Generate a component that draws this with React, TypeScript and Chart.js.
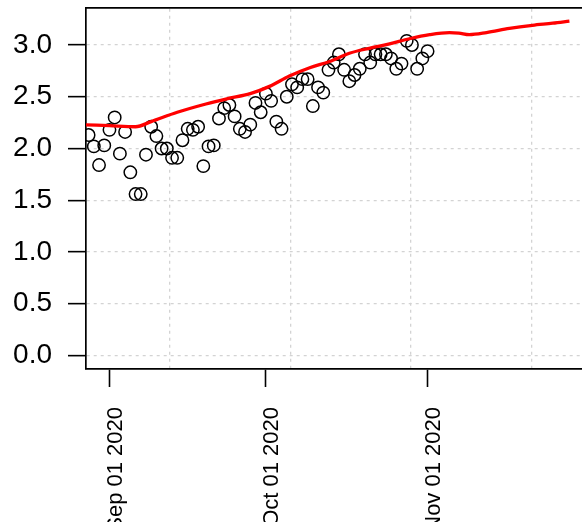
import { useEffect, useRef } from "react";
import { Chart, registerables } from "chart.js";

Chart.register(...registerables);

// ---- data ----
const originDate = "2020-09-01"; // day 0 of the x axis
const firstPointDate = "2020-08-28"; // daily observations start here
const pointValues = [
  2.13, 2.02, 1.84, 2.03, 2.18, 2.3, 1.95, 2.16, 1.77, 1.56, 1.56, 1.94, 2.21, 2.12,
  2.0, 2.0, 1.91, 1.91, 2.08, 2.19, 2.18, 2.21, 1.83, 2.02, 2.03, 2.29, 2.39, 2.42,
  2.31, 2.19, 2.16, 2.23, 2.44, 2.35, 2.53, 2.46, 2.26, 2.19, 2.5, 2.62, 2.59, 2.67,
  2.67, 2.41, 2.59, 2.54, 2.76, 2.83, 2.91, 2.76, 2.65, 2.71, 2.77, 2.91, 2.83, 2.91,
  2.91, 2.91, 2.87, 2.77, 2.82, 3.04, 3.0, 2.77, 2.87, 2.94,
];
// smooth trend line: days since originDate, values
const lineDays = [
  -5, 0, 5, 8, 13, 18.5, 22.5, 27, 30.7, 34.5, 38.4, 42.2, 46, 50, 53.7, 57.5, 61.4,
  65.2, 67, 69, 72.3, 76.7, 81.1, 85, 88.2,
];
const lineValues = [
  2.23, 2.22, 2.21, 2.26, 2.35, 2.43, 2.48, 2.53, 2.6, 2.7, 2.78, 2.84, 2.92, 2.97,
  3.01, 3.06, 3.1, 3.12, 3.115, 3.1, 3.12, 3.16, 3.19, 3.21, 3.23,
];
const xTickDates = ["2020-09-01", "2020-10-01", "2020-11-01"];
const xTickLabels = ["Sep 01 2020", "Oct 01 2020", "Nov 01 2020"];
const xGridDays = [11.5, 34.65, 57.8, 80.95];
const yTicks = [0, 0.5, 1, 1.5, 2, 2.5, 3];

const DAY = 86400000;
const dayOf = (s: string) =>
  (Date.parse(s + "T00:00:00Z") - Date.parse(originDate + "T00:00:00Z")) / DAY;

const W = 640;
const H = 540;
const FONT = "'Liberation Sans', Arial, Helvetica, sans-serif";
const X_MIN = -4.5;
const X_MAX = 97.9;

const zeroPad = (s: any) => {
  s.paddingTop = 0;
  s.paddingBottom = 0;
  s.paddingLeft = 0;
  s.paddingRight = 0;
};

export default function App() {
  const ref = useRef<HTMLCanvasElement | null>(null);

  useEffect(() => {
    if (!ref.current) return;
    const start = dayOf(firstPointDate);
    const points = pointValues.map((v, i) => ({ x: start + i, y: v }));
    const line = lineDays.map((d, i) => ({ x: d, y: lineValues[i] }));
    const xTickDays = xTickDates.map(dayOf);

    const chart = new Chart(ref.current, {
      type: "scatter",
      data: {
        datasets: [
          {
            type: "line",
            data: line,
            borderColor: "#ff0000",
            borderWidth: 3.3,
            pointRadius: 0,
            cubicInterpolationMode: "monotone",
            fill: false,
            clip: 0,
            order: 0,
          } as any,
          {
            type: "scatter",
            data: points,
            pointRadius: 6.2,
            pointStyle: "circle",
            borderColor: "#000",
            backgroundColor: "rgba(0,0,0,0)",
            borderWidth: 1.5,
            clip: 0,
            order: 1,
          } as any,
        ],
      },
      options: {
        responsive: false,
        animation: false,
        devicePixelRatio: 1,
        layout: { padding: { top: 4, left: 0, right: 20, bottom: 0 } },
        plugins: { legend: { display: false }, tooltip: { enabled: false } },
        scales: {
          x: {
            type: "linear",
            position: "bottom",
            min: X_MIN,
            max: X_MAX,
            afterBuildTicks: (s: any) => {
              s.ticks = xTickDays.map((v) => ({ value: v }));
            },
            afterFit: (s: any) => {
              s.height = H - 369;
              zeroPad(s);
            },
            grid: {
              drawOnChartArea: false,
              drawTicks: true,
              tickLength: 18,
              tickWidth: 1.6,
              tickColor: "#000",
              tickBorderDash: [],
            },
            border: { display: true, color: "#000", width: 1.7 },
            ticks: {
              autoSkip: false,
              maxRotation: 90,
              minRotation: 90,
              padding: 20,
              labelOffset: 6,
              color: "#000",
              font: { family: FONT, size: 22 },
              callback: (v: any) => {
                const i = xTickDays.indexOf(Number(v));
                return i >= 0 ? xTickLabels[i] : "";
              },
            },
          },
          xg: {
            type: "linear",
            position: "top",
            min: X_MIN,
            max: X_MAX,
            afterBuildTicks: (s: any) => {
              s.ticks = xGridDays.map((v) => ({ value: v }));
            },
            afterFit: (s: any) => {
              s.height = 0;
              zeroPad(s);
            },
            grid: {
              drawOnChartArea: true,
              drawTicks: false,
              color: "#d3d3d3",
              lineWidth: 1.3,
            },
            border: { display: true, color: "#000", width: 1.7, dash: [3, 4] },
            ticks: { display: false },
          },
          y: {
            type: "linear",
            position: "left",
            min: -0.13,
            max: 3.36,
            afterBuildTicks: (s: any) => {
              s.ticks = yTicks.map((v) => ({ value: v }));
            },
            afterFit: (s: any) => {
              s.width = 86;
              zeroPad(s);
            },
            grid: {
              drawOnChartArea: true,
              drawTicks: true,
              tickLength: 18,
              tickWidth: 1.6,
              tickColor: "#000",
              tickBorderDash: [],
              color: "#d3d3d3",
              lineWidth: 1.3,
            },
            border: { display: true, color: "#000", width: 1.7, dash: [3, 4] },
            ticks: {
              padding: 16,
              color: "#000",
              font: { family: FONT, size: 28 },
              callback: (v: any) => Number(v).toFixed(1),
            },
          },
        },
      } as any,
    });
    return () => chart.destroy();
  }, []);

  return (
    <div
      style={{
        position: "fixed",
        left: 0,
        top: 0,
        width: 582,
        height: 522,
        overflow: "hidden",
        background: "#fff",
      }}
    >
      <canvas ref={ref} width={W} height={H} style={{ width: W, height: H, display: "block" }} />
    </div>
  );
}
